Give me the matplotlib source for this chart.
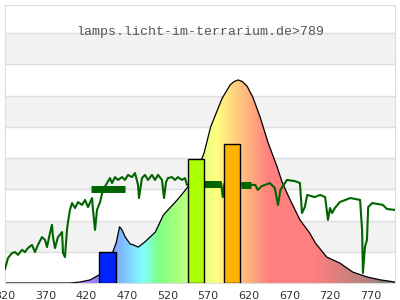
import numpy as np
import matplotlib
matplotlib.use('Agg')
import matplotlib.pyplot as plt
from matplotlib.patches import Polygon

# lamp spectrum (black outline, coloured fill)
spec_nm = [320, 400, 412, 425, 431, 436, 443, 450, 457, 461, 464, 468, 474, 478, 484, 492,
           505, 515, 532, 545, 555, 565, 573, 587, 597, 602, 607, 612, 618, 625, 634, 644,
           655, 661, 671, 683, 695, 702, 716, 732, 748, 766, 782, 800]
spec_val = [0, 0, 0.03, 0.1, 0.19, 0.26, 0.45, 0.8, 1.3, 1.8, 1.7, 1.47, 1.25, 1.22, 1.15, 1.31,
            1.63, 2.18, 2.66, 3.07, 3.5, 4.16, 4.99, 5.9, 6.34, 6.45, 6.5, 6.45, 6.3, 5.95, 5.31, 4.48,
            3.71, 3.23, 2.66, 2.02, 1.6, 1.28, 0.83, 0.64, 0.35, 0.19, 0.1, 0.03]

# green measured curve
g_nm = [320, 323.7, 328.6, 332.3, 336, 340.9, 344.6, 348.3, 353.2, 356.9, 360.6, 365.5, 369.2,
        371.7, 375.4, 377.8, 379.1, 381.5, 385.2, 390.2, 391.4, 393.8, 396.3, 397.5, 400, 402.5,
        406.2, 409.8, 414.8, 418.5, 422.2, 427.1, 428.3, 430.8, 433.2, 437, 440.6, 449.2, 451.7,
        455.4, 459.1, 464, 467.7, 471.4, 476.3, 480, 483.7, 484.9, 488.6, 492.3, 496, 500.9,
        504.6, 508.3, 513.2, 515.7, 518.2, 520.6, 525.5, 529.2, 532.9, 537.8, 541.5, 544,
        555, 565, 586, 588, 590, 611, 621, 628, 631, 636,
        646, 652, 656, 659, 662, 667, 677, 683, 685.5, 689, 692, 701, 708, 714, 717.5, 720,
        722.5, 726, 732, 745, 757, 759.5, 760.5, 763, 765.5, 767, 772, 785, 790, 800]
g_val = [0.45, 0.8, 0.96, 0.99, 0.9, 1.06, 0.99, 1.12, 1.22, 0.99, 1.22, 1.47, 1.38,
         1.15, 1.6, 1.86, 1.47, 1.12, 1.47, 1.63, 0.96, 0.83, 1.7, 1.95, 2.34, 2.56,
         2.4, 2.59, 2.5, 2.66, 2.43, 2.72, 2.34, 1.7, 2.34, 2.59, 2.98, 3.36, 3.2,
         3.39, 3.3, 3.39, 3.3, 3.46, 3.39, 3.52, 3.14, 2.72, 3.36, 3.46, 3.3, 3.46,
         3.3, 3.46, 3.3, 2.72, 3.23, 3.36, 3.39, 3.3, 3.39, 3.3, 3.36, 3.14,
         3.2, 3.2, 3.2, 2.75, 3.18, 3.17, 3.14, 3.14, 2.98, 3.1,
         3.2, 3.04, 2.5, 2.98, 3.1, 3.3, 3.26, 3.2, 2.24, 2.43, 2.82, 2.75, 2.82, 2.75, 2.02, 2.4,
         2.24, 2.4, 2.59, 2.72, 2.66, 1.7, 0.32, 1.15, 1.38, 2.43, 2.56, 2.5, 2.37, 2.34]

# thick (noisy) parts of the green curve
band_start = [426, 565, 611]
band_end = [468, 586, 623]
band_val = [3.02, 3.18, 3.15]

# coloured bars
bar_lo = [435.5, 545, 589.5]
bar_hi = [456.5, 565, 609]
bar_h = [1.0, 3.97, 4.45]
bar_col = ['#0022ff', '#aaff00', '#ffb300']

xticks = [320, 370, 420, 470, 520, 570, 620, 670, 720, 770]
title = 'lamps.licht-im-terrarium.de>789'


def wl_rgb(w):
    if w < 440:
        r, g, b = -(w - 440) / 60.0, 0.0, 1.0
    elif w < 490:
        r, g, b = 0.0, (w - 440) / 50.0, 1.0
    elif w < 510:
        r, g, b = 0.0, 1.0, -(w - 510) / 20.0
    elif w < 580:
        r, g, b = (w - 510) / 70.0, 1.0, 0.0
    elif w < 645:
        r, g, b = 1.0, -(w - 645) / 65.0, 0.0
    else:
        r, g, b = 1.0, 0.0, 0.0
    if w > 700:
        f = max(0.0, 0.3 + 0.7 * (780 - w) / 80.0) if w <= 780 else 0.0
    else:
        f = 1.0
    c = np.array([r, g, b]) * f
    return 0.5 + 0.5 * c


fig = plt.figure(figsize=(4, 3), dpi=100)
ax = fig.add_axes([5 / 400, 17 / 300, 390 / 400, 278 / 300])
ax.set_xlim(320, 800)
ax.set_ylim(0, 8.9)

# alternating bands + grid
for k in range(0, 9):
    if k % 2 == 1:
        ax.axhspan(k, k + 1, color='#f2f2f2', zorder=0, lw=0)
    ax.axhline(k, color='#dddddd', lw=1, zorder=0.5)

# gradient fill under spectrum
wl = np.linspace(320, 800, 480)
grad = np.array([wl_rgb(w) for w in wl])[np.newaxis, :, :]
im = ax.imshow(grad, extent=[320, 800, 0, 8.9], aspect='auto', zorder=1, interpolation='bilinear')
poly = Polygon(list(zip(spec_nm, spec_val)) + [(800, 0), (320, 0)], closed=True,
               facecolor='none', edgecolor='none', transform=ax.transData)
ax.add_patch(poly)
im.set_clip_path(poly)
ax.plot(spec_nm, spec_val, color='black', lw=0.9, zorder=2)

# green curve
ax.plot(g_nm, g_val, color='#006400', lw=1.5, zorder=3)
for s, e, v in zip(band_start, band_end, band_val):
    ax.plot([s, e], [v, v], color='#006400', lw=5, solid_capstyle='butt', zorder=3)

# bars
for lo, hi, h, c in zip(bar_lo, bar_hi, bar_h, bar_col):
    ax.bar(lo, h, width=hi - lo, align='edge', color=c, edgecolor='black', lw=1, zorder=4)

ax.set_xticks(xticks)
ax.set_yticks([])
ax.tick_params(axis='x', length=0, pad=6, labelsize=8, labelcolor='#333333')
for sp in ax.spines.values():
    sp.set_color('#dddddd')

fig.text(0.5, 1 - 32 / 300, title, ha='center', va='center', family='Liberation Mono',
         fontsize=9.5, color='#555555')

fig.savefig('out.png', dpi=100)
